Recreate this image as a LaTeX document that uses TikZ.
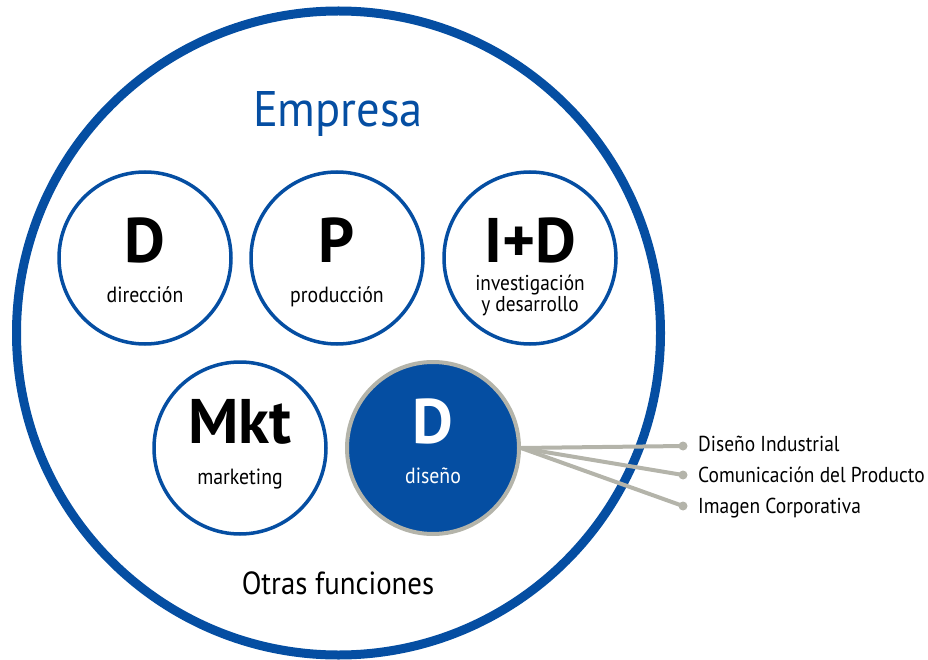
\documentclass[tikz,border=0pt]{standalone}
\usepackage{fontspec}
\setmainfont{PT Sans}[FakeStretch=0.9]
\newfontfamily\bigfont{PT Sans}
\newfontfamily\titfont{PT Sans}[FakeStretch=0.93]
\definecolor{eblue}{RGB}{5,78,162}
\definecolor{egray}{RGB}{180,180,170}
\tikzset{
  func/.style={circle, draw=eblue, line width=3.5pt, minimum size=172pt, inner sep=0pt, fill=white},
  dfunc/.style={circle, draw=egray, line width=4pt, fill=eblue, minimum size=172pt, inner sep=0pt},
  big/.style={font=\bigfont\fontsize{63}{63}\selectfont\bfseries, anchor=base, inner sep=0pt},
  small/.style={font=\fontsize{22}{22}\selectfont, anchor=base, inner sep=0pt},
  lbl/.style={font=\fontsize{21.6}{21.6}\selectfont, anchor=base west, inner sep=0pt},
  conn/.style={draw=egray, line width=4pt},
  dot/.style={circle, fill=egray, minimum size=9pt, inner sep=0pt}
}
\begin{document}
\begin{tikzpicture}[x=1pt,y=-1pt]
\useasboundingbox (0,0) rectangle (928,660);
\node[circle, draw=eblue, line width=9pt, minimum size=644pt, inner sep=0pt] (empresa) at (338.5,333) {};
\node[font=\titfont\fontsize{50}{50}\selectfont, text=eblue, anchor=base, inner sep=0pt] (tit) at (338,127) {Empresa};
\node[func] (cD) at (145,258) {};
\node[func] (cP) at (337,258) {};
\node[func] (cI) at (530,258) {};
\node[func] (cM) at (240,448) {};
\node[dfunc] (cS) at (433,448) {};
\node[big] (tD) at (145,262) {D};
\node[small] (sD) at (145,302) {dirección};
\node[big] (tP) at (337,262) {P};
\node[small] (sP) at (337,302) {producción};
\node[big] (tI) at (530,262) {I+D};
\node[small, align=center, anchor=north, font=\fontsize{21.5}{18.5}\selectfont] (sI) at (530,275) {investigación\\y desarrollo};
\node[big] (tM) at (240,443) {Mkt};
\node[small] (sM) at (240,484) {marketing};
\node[big, text=white] (tS) at (433,443) {D};
\node[small, text=white] (sS) at (433,483) {diseño};
\node[font=\fontsize{32}{32}\selectfont, anchor=base, inner sep=0pt] (otras) at (338,594) {Otras funciones};
\coordinate (src) at (521,448);
\node[dot] (d1) at (683,446) {};
\node[dot] (d2) at (683,475) {};
\node[dot] (d3) at (683,506) {};
\draw[conn] (src) -- (d1.center);
\draw[conn] (src) -- (d2.center);
\draw[conn] (src) -- (d3.center);
\node[lbl] (l1) at (698,451) {Diseño Industrial};
\node[lbl] (l2) at (698,482) {Comunicación del Producto};
\node[lbl] (l3) at (698,513) {Imagen Corporativa};
\end{tikzpicture}
\end{document}
